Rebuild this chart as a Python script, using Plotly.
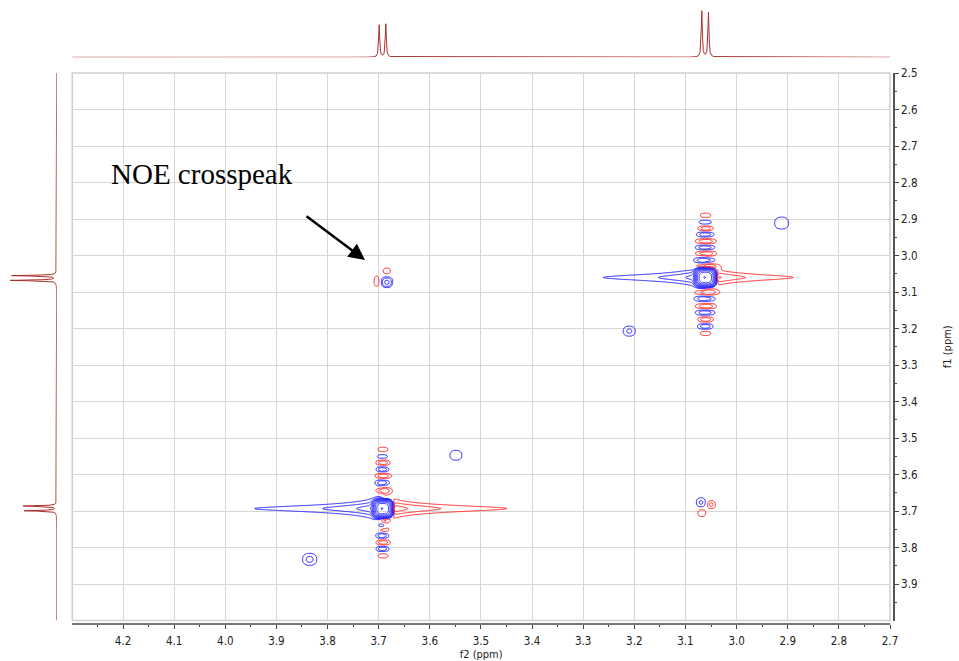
import numpy as np
import plotly.graph_objects as go

# ---------------------------------------------------------------------------
# Spectrum data (ppm)
# ---------------------------------------------------------------------------
F2_RANGE = [4.2992, 2.70]
F1_RANGE = [3.9995, 2.5]

# 1D projections: doublet line positions, heights and line width
proj_ppm = [3.699, 3.686, 3.068, 3.055]
proj_height = [32.3, 33.3, 46.3, 44.7]
proj_fwhm = 0.0024

# diagonal peaks (f2, f1), amplitude and half-widths
diag_f2 = [3.692, 3.061]
diag_f1 = [3.693, 3.060]
diag_amp = [512.0, 512.0]
diag_w2 = [0.0130, 0.0136]
diag_w1 = [0.0160, 0.0164]

# f2 truncation streaks: reach to the left (higher ppm, positive) and right
streak_left = [0.252, 0.200]
streak_right = [0.244, 0.172]
streak_w1 = 0.0110

# t1 noise ridge through the 3.69 ppm diagonal peak
ridge1_off = [-0.162, -0.142, -0.126, -0.107, -0.090, -0.071, -0.049,
              0.033, 0.047, 0.058, 0.074, 0.093, 0.110, 0.129]
ridge1_amp = [-1.6, 1.6, -2.8, 2.8, -2.8, 2.8, -2.8,
              -1.6, 1.6, -1.6, 2.8, -2.8, 2.8, -1.6]
ridge1_w2 = [0.0134, 0.0134, 0.0139, 0.0125, 0.0159, 0.0139, 0.0159,
             0.0107, 0.0080, 0.0134, 0.0125, 0.0139, 0.0125, 0.0134]

# t1 noise ridge through the 3.06 ppm diagonal peak
ridge2_off = [-0.170, -0.151, -0.134, -0.118, -0.099, -0.082, -0.066, -0.047,
              -0.030, 0.041, 0.058, 0.079, 0.096, 0.115, 0.134, 0.153]
ridge2_amp = [-1.6, 1.6, -2.8, 2.8, -2.8, 2.8, -2.8, 2.8,
              -2.8, -2.8, 2.8, -2.8, 2.8, -2.8, 2.8, -1.6]
ridge2_w2 = [0.0140, 0.0165, 0.0150, 0.0170, 0.0205, 0.0190, 0.0205, 0.0205,
             0.0245, 0.0245, 0.0205, 0.0205, 0.0190, 0.0150, 0.0150, 0.0140]
ridge_w1 = 0.0085

# off-diagonal peaks (NOE cross peak and small artefacts)
cross_f2 = [3.684, 3.704, 3.684, 3.0695, 3.050, 3.068, 3.549, 3.835, 2.912, 3.210]
cross_f1 = [3.0734, 3.069, 3.0425, 3.677, 3.681, 3.7055, 3.547, 3.832, 2.911, 3.207]
cross_amp = [4.5, -2.1, -2.1, 2.3, -2.1, -1.8, 1.6, 2.3, 1.6, 2.2]
cross_w2 = [0.0092, 0.0064, 0.0084, 0.0106, 0.0085, 0.0085, 0.0160, 0.0148, 0.0188, 0.0129]
cross_w1 = [0.0120, 0.0175, 0.0095, 0.0148, 0.0110, 0.0110, 0.0187, 0.0177, 0.0225, 0.0151]

# contour levels: powers of two from 1 upward
LEVEL_BASE = 2.0
N_LEVELS = 12


def blob(X, Y, x0, y0, amp, w2, w1, p=2.4):
    return amp * np.exp(-(np.abs((X - x0) / w2) ** p + np.abs((Y - y0) / w1) ** p))


def streak(X, Y, x0, y0, left, right):
    dx = X - x0
    d0 = 0.0156
    tip = np.where(dx > 0, left, right)
    m = (tip + d0) / (np.abs(dx) + d0) * np.tanh(dx / 0.006)
    return m / (1.0 + ((Y - y0) / streak_w1) ** 2)


def field(X, Y):
    F = np.zeros_like(X)
    for i in range(len(diag_f2)):
        F += blob(X, Y, diag_f2[i], diag_f1[i], diag_amp[i], diag_w2[i], diag_w1[i], p=3.0)
        F += streak(X, Y, diag_f2[i], diag_f1[i], streak_left[i], streak_right[i])
    for off, a, w in zip(ridge1_off, ridge1_amp, ridge1_w2):
        F += blob(X, Y, diag_f2[0], diag_f1[0] + off, a, w, ridge_w1)
    for off, a, w in zip(ridge2_off, ridge2_amp, ridge2_w2):
        F += blob(X, Y, diag_f2[1], diag_f1[1] + off, a, w, ridge_w1)
    for x0, y0, a, w2, w1 in zip(cross_f2, cross_f1, cross_amp, cross_w2, cross_w1):
        F += blob(X, Y, x0, y0, a, w2, w1)
    return F


# regions of the 2D map that carry signal: (f2 min, f2 max, f1 min, f1 max)
windows = [
    (3.42, 3.98, 3.50, 3.87),
    (2.86, 3.30, 2.86, 3.25),
    (3.66, 3.73, 3.015, 3.105),
    (3.03, 3.09, 3.65, 3.73),
]

BLUE = "#2424ff"
RED = "#ff2a2a"
SPEC = "#a8302c"

fig = go.Figure()

for (a2, b2, a1, b1) in windows:
    xs = np.round(np.arange(a2, b2, 0.0015), 5)
    ys = np.round(np.arange(a1, b1, 0.002), 5)
    X, Y = np.meshgrid(xs, ys)
    F = field(X, Y)
    for sign, color in ((1.0, BLUE), (-1.0, RED)):
        z = np.log2(np.clip(sign * F, 0.25, None)) / np.log2(LEVEL_BASE)
        fig.add_trace(go.Contour(
            x=xs, y=ys, z=np.round(z, 3),
            contours=dict(start=0, end=N_LEVELS, size=1, coloring="lines"),
            line=dict(width=1, smoothing=0.8),
            colorscale=[[0, color], [1, color]],
            showscale=False, hoverinfo="skip",
            xaxis="x", yaxis="y",
        ))


def projection(axis_ppm):
    out = np.zeros_like(axis_ppm)
    for p0, h in zip(proj_ppm, proj_height):
        out += h / (1.0 + ((axis_ppm - p0) / (proj_fwhm / 2)) ** 2)
    return np.round(out, 3)


# f2 projection along the top
g2 = np.round(np.arange(2.70, 4.2995, 0.0002), 4)
fig.add_trace(go.Scatter(x=g2, y=projection(g2), mode="lines",
                         line=dict(color=SPEC, width=1),
                         hoverinfo="skip", xaxis="x2", yaxis="y2"))
# f1 projection on the left
g1 = np.round(np.arange(2.50, 4.0001, 0.0002), 4)
fig.add_trace(go.Scatter(x=projection(g1), y=g1, mode="lines",
                         line=dict(color=SPEC, width=1),
                         hoverinfo="skip", xaxis="x3", yaxis="y3"))

W, H = 959, 661
X_DOM = [72.3 / W, 890 / W]
Y_DOM = [1 - 620.5 / H, 1 - 73 / H]
FONT = "DejaVu Sans Condensed, DejaVu Sans"
TICK_FONT = dict(family=FONT, size=11.5, color="#222")
TITLE_FONT = dict(family=FONT, size=11, color="#222")

fig.update_layout(
    template="none",
    width=W, height=H,
    margin=dict(l=0, r=0, t=0, b=0, autoexpand=False),
    paper_bgcolor="white", plot_bgcolor="white",
    showlegend=False,
    xaxis=dict(
        domain=X_DOM, range=F2_RANGE, anchor="free", position=1 - 624.2 / H,
        automargin=False,
        tick0=2.7, dtick=0.1, tickformat=".1f",
        showgrid=True, gridcolor="#d6d6d6", gridwidth=1, zeroline=False,
        showline=True, linecolor="#777", linewidth=2,
        ticks="outside", ticklen=4, tickcolor="#444", tickwidth=1,
        ticklabelstandoff=2,
        minor=dict(ticks="outside", ticklen=2, dtick=0.05, tickcolor="#444", showgrid=False),
        tickfont=TICK_FONT,
        title=dict(text="f2 (ppm)", font=TITLE_FONT, standoff=3),
    ),
    yaxis=dict(
        domain=Y_DOM, range=F1_RANGE, anchor="free", position=894 / W, side="right",
        automargin=False,
        tick0=2.5, dtick=0.1, tickformat=".1f",
        showgrid=True, gridcolor="#d6d6d6", gridwidth=1, zeroline=False,
        showline=True, linecolor="#555", linewidth=1.5,
        ticks="outside", ticklen=4, tickcolor="#444", tickwidth=1,
        minor=dict(ticks="outside", ticklen=2, dtick=0.05, tickcolor="#444", showgrid=False),
        tickfont=TICK_FONT,
        title=dict(text="f1 (ppm)", font=TITLE_FONT, standoff=26),
    ),
    xaxis2=dict(domain=X_DOM, range=F2_RANGE, anchor="y2", visible=False, automargin=False),
    yaxis2=dict(domain=[1 - 57.3 / H, 1 - 7.3 / H], range=[0, 50], anchor="x2", visible=False, automargin=False),
    xaxis3=dict(domain=[6.7 / W, 56.7 / W], range=[50, 0], anchor="y3", visible=False, automargin=False),
    yaxis3=dict(domain=Y_DOM, range=F1_RANGE, anchor="x3", visible=False, automargin=False),
    shapes=[dict(type="rect", xref="paper", yref="paper",
                 x0=X_DOM[0], x1=X_DOM[1], y0=Y_DOM[0], y1=Y_DOM[1],
                 line=dict(color="#cfcfcf", width=1.5), layer="below")],
    annotations=[
        dict(x=4.2274, y=2.7767, xref="x", yref="y", text="NOE crosspeak",
             showarrow=False, xanchor="left", yanchor="middle",
             font=dict(family="Liberation Serif, Times New Roman, serif", size=29, color="black")),
        dict(x=3.7267, y=3.0123, xref="x", yref="y", text="",
             showarrow=True, ax=-60, ay=-45, axref="pixel", ayref="pixel",
             arrowhead=2, arrowsize=1.3, arrowwidth=2.5, arrowcolor="black", standoff=0),
    ],
)

fig.write_html("out.html")
